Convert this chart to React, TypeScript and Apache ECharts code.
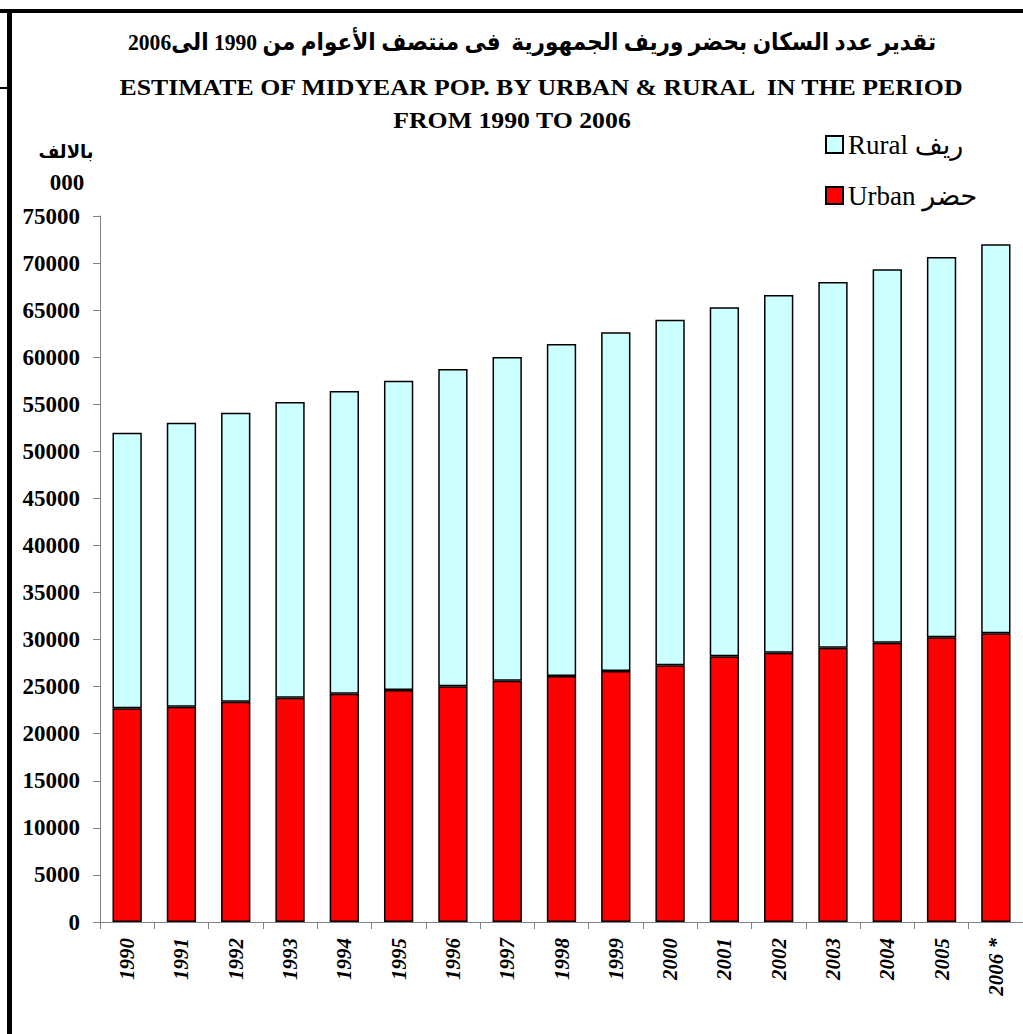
import React, { useEffect, useRef } from "react";
import * as echarts from "echarts";

const years = ["1990", "1991", "1992", "1993", "1994", "1995", "1996", "1997", "1998", "1999", "2000", "2001", "2002", "2003", "2004", "2005", "2006 *"];
const urban = [22700, 22870, 23400, 23830, 24250, 24640, 25040, 25630, 26130, 26660, 27270, 28220, 28610, 29140, 29670, 30240, 30670];
const rural = [29280, 30170, 30700, 31410, 32160, 32860, 33700, 34390, 35270, 35980, 36710, 37080, 37990, 38840, 39660, 40400, 41320];

const titleAr = "تقدير عدد السكان بحضر وريف الجمهورية  فى منتصف الأعوام من 1990 الى2006";
const titleEn1 = "ESTIMATE OF MIDYEAR POP. BY URBAN & RURAL  IN THE PERIOD";
const titleEn2 = "FROM 1990 TO 2006";
const unitAr = "بالالف";
const unitNum = "000";
const urbanName = "Urban حضر";
const ruralName = "Rural ريف";

const SERIF = '"Liberation Serif", "Times New Roman", "DejaVu Sans", serif';

export default function App() {
  const ref = useRef<HTMLDivElement>(null);
  useEffect(() => {
    if (!ref.current) return;
    const chart = echarts.init(ref.current, undefined, { renderer: "svg" });
    chart.setOption({
      animation: false,
      backgroundColor: "#ffffff",
      textStyle: { fontFamily: SERIF },
      grid: { left: 100, right: -5, top: 216, bottom: 112 },
      legend: {
        orient: "vertical",
        left: 825,
        top: 131,
        padding: 0,
        itemWidth: 17,
        itemHeight: 17,
        itemGap: 24,
        icon: "rect",
        data: [ruralName, urbanName],
        textStyle: { fontSize: 27, fontFamily: SERIF, color: "#000" },
        itemStyle: { borderColor: "#000", borderWidth: 2 },
      },
      xAxis: {
        type: "category",
        data: years,
        axisLine: { lineStyle: { color: "#808080", width: 1 } },
        axisTick: { show: true, length: 7, lineStyle: { color: "#808080" } },
        axisLabel: {
          rotate: 90,
          interval: 0,
          margin: 16,
          fontSize: 21,
          fontWeight: "bold",
          fontStyle: "italic",
          fontFamily: SERIF,
          color: "#000",
        },
      },
      yAxis: {
        type: "value",
        min: 0,
        max: 75000,
        interval: 5000,
        splitLine: { show: false },
        axisLine: { show: true, lineStyle: { color: "#808080", width: 1 } },
        axisTick: { show: true, length: 7, lineStyle: { color: "#808080" } },
        axisLabel: {
          fontSize: 23,
          fontWeight: "bold",
          fontFamily: SERIF,
          color: "#000",
          margin: 20,
          formatter: (v: number) => String(v),
        },
      },
      series: [
        {
          name: urbanName,
          type: "bar",
          stack: "total",
          data: urban,
          barWidth: "54%",
          itemStyle: { color: "#FF0000", borderColor: "#000", borderWidth: 1.5 },
        },
        {
          name: ruralName,
          type: "bar",
          stack: "total",
          data: rural,
          barWidth: "54%",
          itemStyle: { color: "#CCFFFF", borderColor: "#000", borderWidth: 1.5 },
        },
      ],
      graphic: [
        { type: "rect", shape: { x: 0, y: 9, width: 1023, height: 4 }, style: { fill: "#000" } },
        { type: "rect", shape: { x: 7, y: 9, width: 5, height: 1025 }, style: { fill: "#000" } },
        { type: "rect", shape: { x: 0, y: 87, width: 8, height: 2 }, style: { fill: "#000" } },
        {
          type: "text",
          x: 532,
          y: 42,
          scaleX: 0.9,
          style: { text: titleAr, fontSize: 24, fontWeight: "bold", fontFamily: SERIF, fill: "#000", textAlign: "center", textVerticalAlign: "middle" },
        },
        {
          type: "text",
          x: 541,
          y: 87,
          scaleX: 1.075,
          style: { text: titleEn1, fontSize: 24, fontWeight: "bold", fontFamily: SERIF, fill: "#000", textAlign: "center", textVerticalAlign: "middle" },
        },
        {
          type: "text",
          x: 512,
          y: 120,
          scaleX: 1.075,
          style: { text: titleEn2, fontSize: 24, fontWeight: "bold", fontFamily: SERIF, fill: "#000", textAlign: "center", textVerticalAlign: "middle" },
        },
        {
          type: "text",
          x: 66,
          y: 152,
          style: { text: unitAr, fontSize: 18, fontWeight: "bold", fontFamily: SERIF, fill: "#000", textAlign: "center", textVerticalAlign: "middle" },
        },
        {
          type: "text",
          x: 67,
          y: 182,
          style: { text: unitNum, fontSize: 23, fontWeight: "bold", fontFamily: SERIF, fill: "#000", textAlign: "center", textVerticalAlign: "middle" },
        },
      ],
    });
    return () => chart.dispose();
  }, []);
  return <div ref={ref} style={{ position: "absolute", left: 0, top: 0, width: 1023, height: 1034 }} />;
}
